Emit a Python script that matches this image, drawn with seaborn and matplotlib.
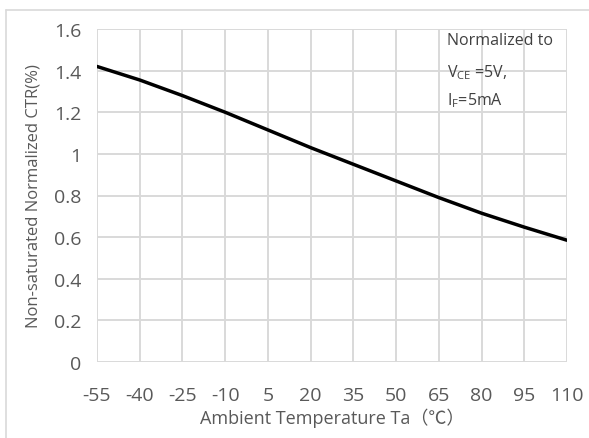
import matplotlib
matplotlib.use("Agg")
import matplotlib.pyplot as plt
import seaborn as sns
import pandas as pd
from matplotlib.lines import Line2D

temps = [-55, -40, -25, -10, 5, 20, 35, 50, 65, 80, 95, 110]
ctr = [1.42, 1.355, 1.28, 1.20, 1.115, 1.03, 0.95, 0.87, 0.79, 0.715, 0.648, 0.585]
y_ticks = [0, 0.2, 0.4, 0.6, 0.8, 1, 1.2, 1.4, 1.6]
y_tick_labels = ["0", "0.2", "0.4", "0.6", "0.8", "1", "1.2", "1.4", "1.6"]

sns.set_style("white")
plt.rcParams['font.family'] = ['Open Sans', 'Noto Sans CJK SC', 'DejaVu Sans']
plt.rcParams['mathtext.fontset'] = 'custom'
plt.rcParams['mathtext.rm'] = 'Open Sans'
plt.rcParams['mathtext.it'] = 'Open Sans'

txt = '#595959'
grid = '#d9d9d9'

fig = plt.figure(figsize=(5.89, 4.39), dpi=100)
ax = fig.add_axes([97/589, 1 - 363/439, (567-97)/589, (363-30)/439])

df = pd.DataFrame({"T": temps, "CTR": ctr})
sns.lineplot(data=df, x="T", y="CTR", ax=ax, color='black', linewidth=2.5)

ax.set_xlim(-55, 110)
ax.set_ylim(0, 1.6)
ax.set_xticks(temps)
ax.set_xticklabels([str(t) for t in temps])
ax.set_yticks(y_ticks)
ax.set_yticklabels(y_tick_labels)
ax.grid(True, color=grid, linewidth=1.4)
ax.set_axisbelow(True)
for s in ax.spines.values():
    s.set_visible(False)
ax.tick_params(axis='both', length=0, labelsize=14, colors=txt)
ax.tick_params(axis='x', pad=17)
ax.tick_params(axis='y', pad=11)

ax.set_xlabel("Ambient Temperature Ta（℃）", fontsize=13, color=txt, labelpad=3)
ax.set_ylabel("Non-saturated Normalized CTR(%)", fontsize=12, color=txt, labelpad=9)

ann_x = 0.745
ax.text(ann_x, 0.99, "Normalized to", transform=ax.transAxes, fontsize=11.5,
        color='#404040', va='top', ha='left')
ax.text(ann_x, 0.90, r"V$_{\mathrm{CE}}$ =5V,", transform=ax.transAxes, fontsize=11.5,
        color='#404040', va='top', ha='left')
ax.text(ann_x, 0.815, r"I$_{\mathrm{F}}$=5mA", transform=ax.transAxes, fontsize=11.5,
        color='#404040', va='top', ha='left')

# chart-area border (left and top)
fig.add_artist(Line2D([6/589, 6/589], [0, 1 - 11/439], transform=fig.transFigure,
                      color=grid, linewidth=1.2))
fig.add_artist(Line2D([6/589, 1], [1 - 11/439, 1 - 11/439], transform=fig.transFigure,
                      color=grid, linewidth=1.2))

fig.savefig("out.png", dpi=100)
